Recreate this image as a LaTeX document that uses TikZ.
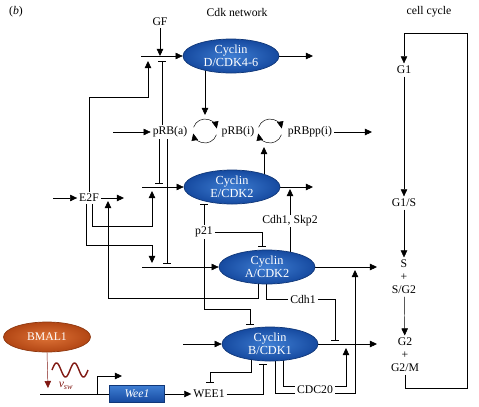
\documentclass[tikz,border=0pt]{standalone}
\usepackage{xcolor}
\usepackage{amsmath}
\usepackage{fontspec}
\setmainfont{Liberation Serif}
\usepackage{tikz}
\usetikzlibrary{positioning,arrows.meta,shapes.geometric,backgrounds,calc}

\definecolor{cycblue}{RGB}{22,74,160}
\definecolor{cycblueL}{RGB}{62,125,210}
\definecolor{bmalor}{RGB}{178,70,20}
\definecolor{bmalorL}{RGB}{222,115,55}
\definecolor{swred}{RGB}{128,24,18}

\begin{document}
\begin{tikzpicture}[x=0.03cm,y=-0.03cm,line width=1.6pt,
  font=\fontsize{10}{11}\selectfont,
  cyc/.style={ellipse, draw=cycblue!75!black, line width=0.6pt, inner color=cycblueL, outer color=cycblue,
    text=white, minimum width=2.88cm, minimum height=1.02cm, inner sep=0pt, align=center,
    font=\fontsize{10.5}{11}\selectfont},
  lab/.style={fill=white, inner sep=1pt},
  phase/.style={inner sep=1.5pt, align=center},
  act/.style={-{Triangle[length=6pt,width=5.5pt]}},
  inh/.style={-{Bar[width=6.5pt]}}]
\useasboundingbox (0,0) rectangle (479,406);

% titles
\node (panel) at (16,12) {(\textit{b})};
\node (cdknet) at (237,12) {Cdk network};
\node (cellcyc) at (429,12) {cell cycle};

% cyclin/CDK complexes
\node[cyc] (cycD) at (231,56) {Cyclin\\D/CDK4-6};
\node[cyc] (cycE) at (232,187) {Cyclin\\E/CDK2};
\node[cyc] (cycA) at (267,267) {Cyclin\\A/CDK2};
\node[cyc] (cycB) at (270,344) {Cyclin\\B/CDK1};

% other species
\node[lab] (GF) at (160,22) {GF};
\node[lab] (pRBa) at (170,132) {pRB(a)};
\node[lab] (pRBi) at (238,132) {pRB(i)};
\node[lab] (pRBpp) at (310,132) {pRBpp(i)};
\node[lab] (E2F) at (89,198) {E2F};
\node[lab] (p21) at (204,232) {p21};
\node[lab] (skp) at (290,221) {Cdh1, Skp2};
\node[lab] (cdh) at (303,299) {Cdh1};
\node[lab] (cdc) at (315,390) {CDC20};
\node[lab] (wee) at (209,394) {WEE1};

% clock input
\node[ellipse, draw=bmalor!80!black, line width=0.6pt, inner color=bmalorL, outer color=bmalor, text=white,
  minimum width=2.61cm, minimum height=0.9cm, inner sep=0pt] (bmal) at (47,337) {BMAL1};
\node[draw=cycblue!75!black, line width=0.6pt, top color=cycblueL, bottom color=cycblue, text=white,
  minimum width=1.65cm, minimum height=0.5cm, inner sep=0pt] (wee1g) at (137,394) {\textit{Wee1}};
\node[text=swred, inner sep=0pt] (vsw) at (66,386) {\textit{v}\textsubscript{\textit{sw}}};

% cell cycle
\node[phase] (G1) at (404,70) {G1};
\node[phase] (G1S) at (404,203) {G1/S};
\node[phase] (Sph) at (404,277) {S\\+\\S/G2};
\node[phase] (G2ph) at (405,355) {G2\\+\\G2/M};

% junctions and free ends
\coordinate (dIn) at (141,56);
\coordinate (eIn) at (142,187);
\coordinate (aIn) at (142,267);
\coordinate (bIn) at (183,344);
\coordinate (dOut) at (313,56);
\coordinate (eOut) at (313,187);
\coordinate (aOut) at (377,267);
\coordinate (bOut) at (377,344);
\coordinate (rbIn) at (113,132);
\coordinate (rbOut) at (372,132);
\coordinate (e2fIn) at (53,198);
\coordinate (e2fOut) at (124,198);
\coordinate (lp1) at (205,131);
\coordinate (lp2) at (270,131);
\coordinate (lpD) at (205,115);
\coordinate (lpE) at (264,147);
\coordinate (eD) at (148,97);
\coordinate (jDa) at (148,61);
\coordinate (jDi) at (162,61);
\coordinate (jEi) at (159,183);
\coordinate (jAi) at (167,263);
\coordinate (eE1) at (92,226);
\coordinate (jEa) at (152,191);
\coordinate (eA1) at (86,245);
\coordinate (jAa) at (152,263);
\coordinate (aL1) at (258,298);
\coordinate (jE2) at (108,201);
\coordinate (jEs) at (290,189);
\coordinate (jAp) at (262,246);
\coordinate (pB) at (250,309);
\coordinate (jBp) at (250,324);
\coordinate (jBi) at (335,340);
\coordinate (jBw) at (263,364);
\coordinate (bwT) at (251,372);
\coordinate (jWb) at (210,382);
\coordinate (cb1) at (275,393);
\coordinate (cb2) at (283,386);
\coordinate (jBc) at (346,348);
\coordinate (jAc) at (355,270);
\coordinate (prom) at (40,394);
\coordinate (tss) at (97,394);
\coordinate (tssE) at (122,376);
\coordinate (bmT) at (48,388);
\coordinate (ccBR) at (467,388);
\coordinate (ccTR) at (467,33);

\begin{scope}[on background layer]
% inputs and outputs of the complexes
\draw[act] (dIn) -- (cycD.west);
\draw[act] (eIn) -- (cycE.west);
\draw[act] (aIn) -- (cycA.west);
\draw[act] (bIn) -- (cycB.west);
\draw[act] (cycD.east) -- (dOut);
\draw[act] (cycE.east) -- (eOut);
\draw[act] (cycA.east) -- (aOut);
\draw[act] (cycB.east) -- (bOut);
\draw[act] (GF) -- (GF |- dIn);

% pRB cycles
\draw[act] (rbIn) -- (pRBa.west);
\draw[act] (pRBpp.east) -- (rbOut);
\draw[act] ($(lp1)+(162:0.36cm)$) arc[start angle=162,end angle=12,radius=0.36cm];
\draw[act] ($(lp1)+(-18:0.36cm)$) arc[start angle=-18,end angle=-168,radius=0.36cm];
\draw[act] ($(lp2)+(162:0.36cm)$) arc[start angle=162,end angle=12,radius=0.36cm];
\draw[act] ($(lp2)+(-18:0.36cm)$) arc[start angle=-18,end angle=-168,radius=0.36cm];
\draw[act] (cycD -| lpD) -- (lpD);
\draw[act] (cycE -| lpE) -- (lpE);
\draw[inh] (pRBa.north -| jDi) -- (jDi);
\draw[inh] (pRBa.south -| jEi) -- (jEi);
\draw[inh] (pRBa.south -| jAi) -- (jAi);

% E2F
\draw[act] (e2fIn) -- (E2F.west);
\draw[act] (E2F.east) -- (e2fOut);
\draw[act] (E2F.north) |- (eD) -- (jDa);
\draw[act] (E2F.south -| eE1) -- (eE1) -| (jEa);
\draw[act] (E2F.south -| eA1) -- (eA1) -| (jAa);
\draw[act] (cycA -| aL1) -- (aL1) -| (jE2);

% p21, Cdh1, Skp2
\draw[act] (cycA -| skp) -- (jEs);
\draw[inh] (p21) -- (p21 |- cycE.south);
\draw[inh] (p21) -| (jAp);
\draw[inh] (p21) |- (pB) -- (jBp);
\draw (cycA -| cdh.west) ++(-22,0) |- (cdh.west);
\draw[inh] (cdh.east) -| (jBi);

% WEE1 and CDC20
\draw[inh] (wee.east) -| (jBw);
\draw[inh] (cycB -| bwT) -- (bwT) -| (jWb);
\draw (cycB -| cb1) -- (cb1) -- (cdc.west |- cb1);
\draw (cycB -| cb2) -- (cb2) -- (cdc.west |- cb2);
\draw[act] (cdc.east |- cb2) -| (jBc);
\draw[act] (cdc.east |- cb1) -| (jAc);

% Wee1 gene and BMAL1
\draw (prom) -- (wee1g.west);
\draw[act] (tss) |- (tssE);
\draw[act] (wee1g.east) -- (wee.west);
\draw[act, swred] (bmal.south) -- (bmT);
\draw[swred, line width=1.2pt, domain=0:36, samples=60, smooth] plot ({52+\x},{370-7*sin(20*\x)});

% cell cycle
\draw[act] (G1) -- (G1S);
\draw[act] (G1S) -- (Sph);
\draw[act] (Sph) -- (G2ph);
\draw[act] (G2ph.south) |- (ccBR) -- (ccTR) -| (G1.north);
\end{scope}
\end{tikzpicture}
\end{document}
